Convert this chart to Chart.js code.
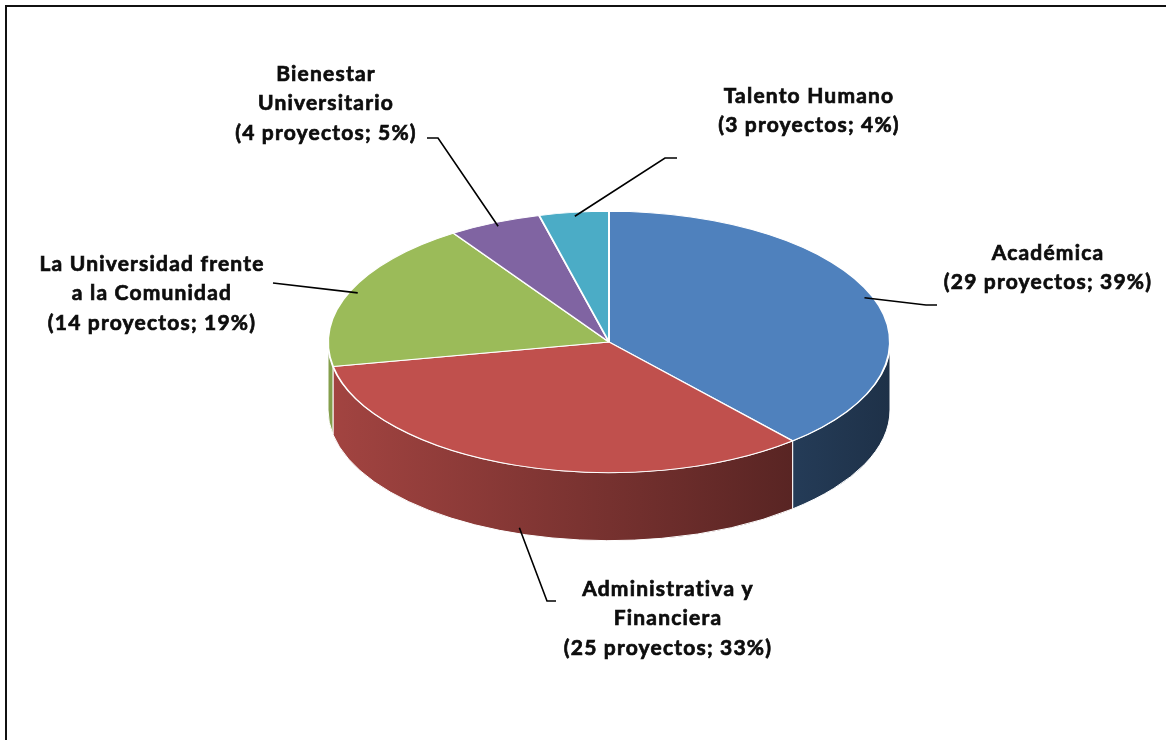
<!DOCTYPE html>
<html lang="es">
<head>
<meta charset="UTF-8">
<title>Proyectos por eje</title>
<script src="https://cdn.jsdelivr.net/npm/chart.js"></script>
<style>
    html, body { margin: 0; padding: 0; background: #fff; overflow: hidden; }
    #wrap { position: relative; width: 1166px; height: 740px; }
    /* marco del grafico, cortado a la derecha y abajo */
    #marco {
        position: absolute; left: 5px; top: 5px;
        width: 1200px; height: 800px;
        border: 2px solid #111; box-sizing: border-box;
    }
    canvas { position: absolute; left: 0; top: 0; }
</style>
</head>
<body>
<div id="wrap">
    <div id="marco"></div>
    <canvas id="myChart" width="1166" height="740"></canvas>
</div>

<script>
    // datos del grafico
    var categorias = ['Académica', 'Administrativa y Financiera', 'La Universidad frente a la Comunidad', 'Bienestar Universitario', 'Talento Humano'];
    var proyectos = [29, 25, 14, 4, 3];
    var porcentajes = [39, 33, 19, 5, 4];
    // texto de las etiquetas, linea por linea
    var etiquetas = [
        ['Académica', '(29 proyectos; 39%)'],
        ['Administrativa y', 'Financiera', '(25 proyectos; 33%)'],
        ['La Universidad frente', 'a la Comunidad', '(14 proyectos; 19%)'],
        ['Bienestar', 'Universitario', '(4 proyectos; 5%)'],
        ['Talento Humano', '(3 proyectos; 4%)']
    ];
    var colores = ['#4F81BD', '#C0504D', '#9BBB59', '#8064A2', '#4BACC6'];

    // posicion de las etiquetas (centro x, y de la primera linea) y codo de la linea guia
    var posEtiquetas = [
        { x: 1048, y: 253, codo: [[926, 305], [937, 305]] },
        { x: 668, y: 589, codo: [[547, 601], [556, 601]] },
        { x: 152, y: 264, codo: [[273, 283]] },
        { x: 326, y: 74, codo: [[438, 138], [427, 138]] },
        { x: 809, y: 96, codo: [[665, 158], [677, 158]] }
    ];

    var APLASTAR = 0.465;   // relacion eje vertical / horizontal de la elipse
    var ALTO = 68;          // grosor del pastel

    function oscurecer(hex, f) {
        var r = parseInt(hex.substr(1, 2), 16), g = parseInt(hex.substr(3, 2), 16), b = parseInt(hex.substr(5, 2), 16);
        return 'rgb(' + Math.round(r * f) + ',' + Math.round(g * f) + ',' + Math.round(b * f) + ')';
    }

    var pastel3d = {
        id: 'pastel3d',
        beforeDatasetsDraw: function(chart) {
            var ctx = chart.ctx;
            var arcs = chart.getDatasetMeta(0).data;
            var cx = arcs[0].x, cy = arcs[0].y;
            var rx = arcs[0].outerRadius, ry = rx * APLASTAR;

            // paredes laterales (solo la mitad delantera)
            arcs.forEach(function(arc, i) {
                var s = Math.max(arc.startAngle, 0);
                var e = Math.min(arc.endAngle, Math.PI);
                if (e <= s) return;
                var grad = ctx.createLinearGradient(cx - rx, 0, cx + rx, 0);
                grad.addColorStop(0, oscurecer(colores[i], 0.85));
                grad.addColorStop(1, oscurecer(colores[i], 0.38));
                ctx.beginPath();
                ctx.moveTo(cx + rx * Math.cos(s), cy + ry * Math.sin(s));
                ctx.ellipse(cx, cy, rx, ry, 0, s, e);
                ctx.lineTo(cx + rx * Math.cos(e), cy + ry * Math.sin(e) + ALTO);
                ctx.ellipse(cx, cy + ALTO, rx, ry, 0, e, s, true);
                ctx.closePath();
                ctx.fillStyle = grad;
                ctx.fill();
                ctx.strokeStyle = '#ffffff';
                ctx.lineWidth = 1;
                ctx.stroke();
            });

            // cara superior: el pastel de Chart.js aplastado
            ctx.save();
            ctx.translate(cx, cy);
            ctx.scale(1, APLASTAR);
            ctx.translate(-cx, -cy);
        },
        afterDatasetsDraw: function(chart) {
            var ctx = chart.ctx;
            ctx.restore();
            var arcs = chart.getDatasetMeta(0).data;
            var cx = arcs[0].x, cy = arcs[0].y;
            var rx = arcs[0].outerRadius, ry = rx * APLASTAR;

            arcs.forEach(function(arc, i) {
                var m = (arc.startAngle + arc.endAngle) / 2;
                var ax = cx + rx * 0.97 * Math.cos(m);
                var ay = cy + ry * 0.97 * Math.sin(m);
                if (Math.sin(m) > 0.3) ay += ALTO - 2;  // sale del borde inferior
                var p = posEtiquetas[i];

                // linea guia
                ctx.beginPath();
                ctx.moveTo(ax, ay);
                p.codo.forEach(function(pt) { ctx.lineTo(pt[0], pt[1]); });
                ctx.strokeStyle = '#000';
                ctx.lineWidth = 1.6;
                ctx.stroke();

                // etiqueta (un poco mas gruesa y espaciada, como Gill Sans)
                ctx.save();
                ctx.fillStyle = '#0d0d0d';
                ctx.strokeStyle = '#0d0d0d';
                ctx.lineWidth = 0.7;
                ctx.font = 'bold 21px Lato';
                ctx.letterSpacing = '1.2px';
                ctx.textAlign = 'center';
                ctx.textBaseline = 'middle';
                etiquetas[i].forEach(function(linea, k) {
                    ctx.fillText(linea, p.x, p.y + k * 29.5);
                    ctx.strokeText(linea, p.x, p.y + k * 29.5);
                });
                ctx.restore();
            });
        }
    };

    var ctx = document.getElementById('myChart').getContext('2d');
    var myChart = new Chart(ctx, {
        type: 'pie',
        data: {
            labels: categorias,
            datasets: [{
                data: proyectos,
                backgroundColor: colores,
                borderColor: '#ffffff',
                borderWidth: 2,
                radius: 281
            }]
        },
        options: {
            responsive: false,
            animation: false,
            layout: { padding: { left: 52, bottom: 56 } },
            plugins: {
                legend: { display: false },
                tooltip: { enabled: false }
            }
        },
        plugins: [pastel3d]
    });
</script>
</body>
</html>
